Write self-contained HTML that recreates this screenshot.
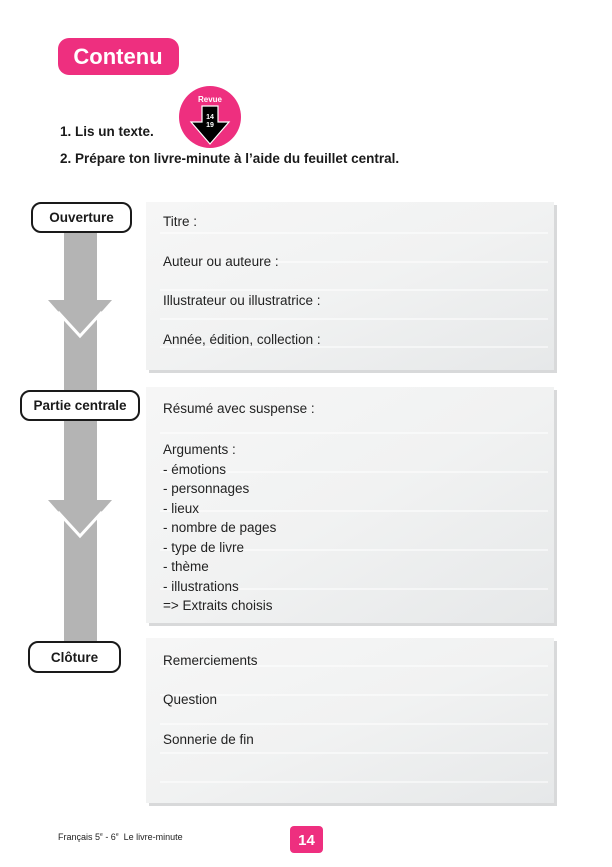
<!DOCTYPE html>
<html><head><meta charset="utf-8"><style>
html,body{margin:0;padding:0;background:#fff;}
body{width:612px;height:867px;position:relative;overflow:hidden;font-family:"Liberation Sans",sans-serif;}
.t{position:absolute;font-size:13.5px;color:#222;white-space:nowrap;}
.b{position:absolute;font-weight:bold;font-size:13.5px;color:#1a1a1a;white-space:nowrap;}
</style></head><body>
<svg width="612" height="867" style="position:absolute;left:0;top:0">
<defs>
<linearGradient id="g" x1="0" y1="0" x2="1" y2="1">
<stop offset="0" stop-color="#f6f6f6"/><stop offset="0.5" stop-color="#f1f2f2"/><stop offset="1" stop-color="#e6e8e9"/>
</linearGradient>
</defs>
<!-- title -->
<rect x="58" y="38" width="121" height="37" rx="11" fill="#ee2f7f"/>
<text x="118" y="64" font-family="Liberation Sans" font-weight="bold" font-size="22" fill="#fff" text-anchor="middle">Contenu</text>
<!-- badge -->
<circle cx="210" cy="117" r="31" fill="#ee2f7f"/>
<text x="210" y="102" font-family="Liberation Sans" font-weight="bold" font-size="8" fill="#fff" text-anchor="middle">Revue</text>
<path d="M202 106 H218 V122 H229 L210 144 L191 122 H202 Z" fill="#000" stroke="#fff" stroke-width="1.2"/>
<text x="210" y="119" font-family="Liberation Sans" font-weight="bold" font-size="7" fill="#fff" text-anchor="middle">14</text>
<text x="210" y="127" font-family="Liberation Sans" font-weight="bold" font-size="7" fill="#fff" text-anchor="middle">19</text>
<!-- arrow bar -->
<rect x="64" y="228" width="33" height="414" fill="#b4b4b4"/>
<polygon points="48,300 112,300 80,336" fill="#b4b4b4"/>
<polyline points="58,312 80,336 102,312" fill="none" stroke="#fff" stroke-width="3"/>
<polygon points="48,500 112,500 80,536" fill="#b4b4b4"/>
<polyline points="58,512 80,536 102,512" fill="none" stroke="#fff" stroke-width="3"/>
<!-- panels -->
<g>
<rect x="149" y="205" width="408" height="168" fill="#d8d9da"/>
<rect x="146" y="202" width="408" height="168" fill="url(#g)"/>
<g stroke="#fff" stroke-width="1"><line x1="160" y1="233" x2="548" y2="233"/><line x1="160" y1="262" x2="548" y2="262"/><line x1="160" y1="290" x2="548" y2="290"/><line x1="160" y1="319" x2="548" y2="319"/><line x1="160" y1="347" x2="548" y2="347"/></g>
<rect x="149" y="390" width="408" height="236" fill="#d8d9da"/>
<rect x="146" y="387" width="408" height="236" fill="url(#g)"/>
<g stroke="#fff" stroke-width="1"><line x1="160" y1="433" x2="548" y2="433"/><line x1="160" y1="472" x2="548" y2="472"/><line x1="160" y1="511" x2="548" y2="511"/><line x1="160" y1="550" x2="548" y2="550"/><line x1="160" y1="589" x2="548" y2="589"/></g>
<rect x="149" y="641" width="408" height="165" fill="#d8d9da"/>
<rect x="146" y="638" width="408" height="165" fill="url(#g)"/>
<g stroke="#fff" stroke-width="1"><line x1="160" y1="666" x2="548" y2="666"/><line x1="160" y1="695" x2="548" y2="695"/><line x1="160" y1="724" x2="548" y2="724"/><line x1="160" y1="753" x2="548" y2="753"/><line x1="160" y1="782" x2="548" y2="782"/></g>
</g>
<!-- labels -->
<rect x="32" y="203" width="99" height="29" rx="9" fill="#fff" stroke="#1a1a1a" stroke-width="2"/>
<text x="81.5" y="222" font-family="Liberation Sans" font-weight="bold" font-size="13.5" fill="#1a1a1a" text-anchor="middle">Ouverture</text>
<rect x="21" y="391" width="118" height="29" rx="9" fill="#fff" stroke="#1a1a1a" stroke-width="2"/>
<text x="80" y="410" font-family="Liberation Sans" font-weight="bold" font-size="13.5" fill="#1a1a1a" text-anchor="middle">Partie centrale</text>
<rect x="29" y="642" width="91" height="30" rx="9" fill="#fff" stroke="#1a1a1a" stroke-width="2"/>
<text x="74.5" y="662" font-family="Liberation Sans" font-weight="bold" font-size="13.5" fill="#1a1a1a" text-anchor="middle">Clôture</text>
<!-- page number -->
<rect x="290" y="826" width="33" height="27" rx="4" fill="#ee2f7f"/>
<text x="306.5" y="845" font-family="Liberation Sans" font-weight="bold" font-size="15" fill="#fff" text-anchor="middle">14</text>
</svg>
<div class="b" style="left:60px;top:124px">1. Lis un texte.</div>
<div class="b" style="left:60px;top:151px">2. Prépare ton livre-minute à l’aide du feuillet central.</div>
<div class="t" style="left:163px;top:214px">Titre :</div>
<div class="t" style="left:163px;top:254px">Auteur ou auteure :</div>
<div class="t" style="left:163px;top:293px">Illustrateur ou illustratrice :</div>
<div class="t" style="left:163px;top:332px">Année, édition, collection :</div>
<div class="t" style="left:163px;top:401px">Résumé avec suspense :</div>
<div class="t" style="left:163px;top:440px;line-height:19.5px">Arguments :<br>- émotions<br>- personnages<br>- lieux<br>- nombre de pages<br>- type de livre<br>- thème<br>- illustrations<br>=&gt; Extraits choisis</div>
<div class="t" style="left:163px;top:653px">Remerciements</div>
<div class="t" style="left:163px;top:692px">Question</div>
<div class="t" style="left:163px;top:732px">Sonnerie de fin</div>
<div class="t" style="left:58px;top:832px;font-size:9px">Français 5<sup style="font-size:5px">e</sup> - 6<sup style="font-size:5px">e</sup>&nbsp; Le livre-minute</div>
</body></html>
